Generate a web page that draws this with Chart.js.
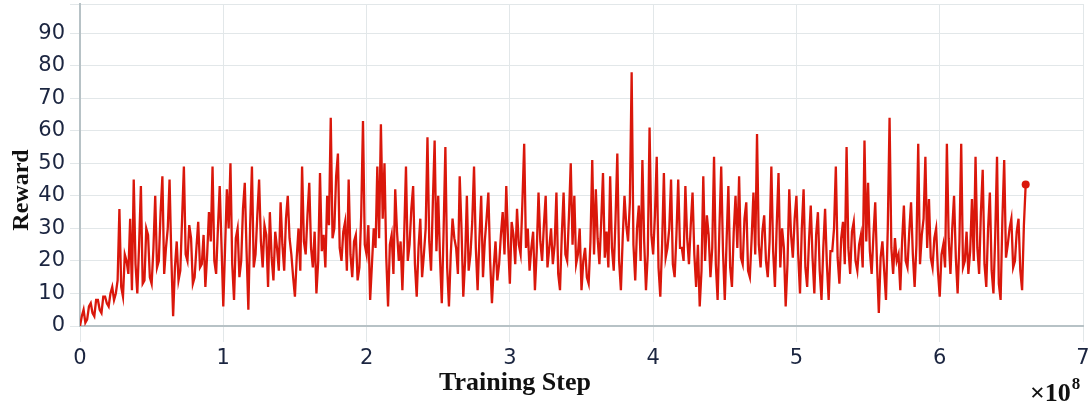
<!DOCTYPE html>
<html>
<head>
<meta charset="utf-8">
<script src="https://cdn.jsdelivr.net/npm/chart.js@4.4.1/dist/chart.umd.min.js"></script>
<style>
  html, body { margin: 0; padding: 0; background: #ffffff; }
  #wrap { width: 1091px; height: 407px; }
</style>
</head>
<body>
<div id="wrap"><canvas id="rewardChart"></canvas></div>
<script>
// Reward logged every 0.0125 x 1e8 training steps
const stepInterval = 0.0125;

const rewards = [
  0, 3, 5, 1, 2, 6, 7, 4, 3, 8, 8, 5, 4, 9, 9, 7, 6, 10, 12, 8,
  10, 14, 36, 12, 9, 22, 20, 16, 33, 11, 45, 19, 10, 25, 43, 13, 14, 30, 28, 15,
  13, 24, 40, 18, 20, 35, 46, 16, 24, 30, 45, 21, 3, 18, 26, 14, 17, 33, 49, 22,
  20, 31, 27, 13, 15, 24, 32, 18, 19, 28, 12, 22, 35, 26, 49, 20, 16, 30, 43, 25,
  6, 24, 42, 30, 50, 19, 8, 27, 30, 15, 20, 36, 44, 23, 5, 31, 49, 18, 22, 34,
  45, 26, 18, 31, 28, 12, 35, 21, 14, 29, 24, 17, 38, 25, 17, 33, 40, 27, 22, 15,
  9, 21, 30, 17, 49, 26, 22, 34, 44, 24, 18, 29, 10, 20, 47, 23, 28, 18, 40, 31,
  64, 27, 30, 46, 53, 24, 20, 29, 32, 17, 45, 22, 15, 26, 28, 14, 18, 34, 63, 25,
  22, 31, 8, 19, 30, 24, 49, 27, 62, 33, 50, 21, 6, 25, 28, 16, 42, 29, 20, 26,
  11, 28, 49, 20, 25, 36, 43, 19, 9, 24, 33, 15, 22, 30, 58, 26, 17, 38, 57, 23,
  40, 21, 7, 29, 55, 18, 6, 22, 33, 27, 24, 16, 46, 30, 9, 20, 40, 17, 22, 32,
  49, 24, 11, 27, 40, 15, 26, 33, 41, 20, 7, 18, 26, 14, 19, 28, 35, 22, 43, 26,
  13, 32, 28, 19, 36, 25, 22, 38, 56, 24, 30, 17, 24, 29, 11, 23, 41, 26, 20, 31,
  40, 18, 24, 30, 19, 25, 41, 16, 11, 28, 41, 22, 20, 34, 50, 25, 40, 19, 22, 30,
  11, 20, 24, 15, 13, 26, 51, 22, 42, 27, 19, 32, 47, 21, 29, 18, 46, 24, 17, 33,
  53, 20, 11, 27, 40, 31, 26, 38, 78, 25, 14, 30, 37, 20, 51, 26, 11, 22, 61, 28,
  22, 34, 52, 18, 9, 25, 47, 21, 24, 30, 45, 19, 15, 28, 45, 24, 24, 20, 43, 27,
  19, 31, 41, 22, 12, 25, 6, 17, 46, 20, 34, 28, 15, 24, 52, 19, 8, 30, 49, 23,
  8, 26, 43, 18, 12, 29, 40, 24, 46, 21, 19, 33, 38, 17, 15, 27, 41, 22, 59, 25,
  18, 29, 34, 20, 15, 26, 49, 23, 12, 31, 47, 18, 30, 24, 6, 19, 42, 28, 21, 33,
  40, 22, 10, 30, 42, 18, 12, 26, 37, 21, 10, 28, 35, 17, 8, 24, 36, 19, 8, 23,
  23, 30, 49, 21, 13, 27, 32, 19, 55, 24, 16, 29, 32, 20, 17, 25, 28, 18, 57, 26,
  44, 23, 16, 28, 38, 19, 4, 21, 26, 17, 8, 30, 64, 24, 16, 27, 20, 22, 11, 26,
  37, 20, 18, 29, 38, 22, 12, 25, 56, 19, 28, 33, 52, 24, 39, 21, 18, 27, 30, 17,
  9, 22, 25, 18, 56, 27, 16, 30, 40, 21, 10, 26, 56, 18, 20, 29, 16, 23, 39, 20,
  52, 24, 16, 35, 48, 19, 12, 30, 41, 17, 10, 28, 52, 13, 8, 33, 51, 21, 25, 30,
  33, 18, 20, 29, 33, 17, 11, 31, 43.5
];

const yTicks = [0, 10, 20, 30, 40, 50, 60, 70, 80, 90];
const xTicks = [0, 1, 2, 3, 4, 5, 6, 7];
const yMax = 99;
const xMax = 7;

const points = rewards.map((r, i) => ({ x: i * stepInterval, y: r }));

const lineRed = '#da170b';
const gridColor = '#e2e7e9';
const axisColor = '#b7c2c6';
const tickColor = '#1b2540';
const titleFont = '"Liberation Serif", "Times New Roman", serif';

// Axis titles and the x10^8 multiplier, placed where the original has them
const extraLabels = {
  id: 'extraLabels',
  afterDraw(chart) {
    const ctx = chart.ctx;
    ctx.save();
    ctx.fillStyle = '#111111';
    ctx.font = 'bold 24px ' + titleFont;
    ctx.textAlign = 'center';
    ctx.textBaseline = 'middle';
    ctx.translate(22, 190);
    ctx.rotate(-Math.PI / 2);
    ctx.fillText('Reward', 0, 0);
    ctx.restore();

    ctx.save();
    ctx.fillStyle = '#111111';
    ctx.font = 'bold 26px ' + titleFont;
    ctx.textAlign = 'center';
    ctx.textBaseline = 'middle';
    ctx.fillText('Training Step', 515, 383);
    ctx.restore();

    ctx.save();
    ctx.fillStyle = '#111111';
    ctx.textBaseline = 'alphabetic';
    ctx.textAlign = 'left';
    ctx.font = 'bold 26px ' + titleFont;
    ctx.fillText('\u00d710', 1030, 401);
    const w = ctx.measureText('\u00d710').width;
    ctx.font = 'bold 17px ' + titleFont;
    ctx.fillText('8', 1030 + w + 1, 389);
    ctx.restore();
  }
};

new Chart(document.getElementById('rewardChart'), {
  type: 'line',
  data: {
    datasets: [{
      label: 'Reward',
      data: points,
      borderColor: lineRed,
      backgroundColor: lineRed,
      borderWidth: 2.3,
      tension: 0,
      pointRadius: points.map((p, i) => i === points.length - 1 ? 4 : 0),
      pointBackgroundColor: lineRed,
      pointBorderWidth: 0
    }]
  },
  options: {
    responsive: true,
    maintainAspectRatio: false,
    animation: false,
    layout: { padding: { top: 2, right: 8, bottom: 0, left: 0 } },
    plugins: {
      legend: { display: false },
      tooltip: { enabled: false }
    },
    scales: {
      x: {
        type: 'linear',
        min: 0,
        max: xMax,
        afterFit: s => { s.height = 81; s.paddingLeft = 0; s.paddingRight = 0; },
        afterBuildTicks: s => { s.ticks = xTicks.map(v => ({ value: v })); },
        grid: { color: gridColor, tickLength: 16, lineWidth: 1 },
        border: { color: axisColor, width: 2 },
        ticks: {
          color: tickColor,
          padding: 4,
          maxRotation: 0,
          font: { family: '"DejaVu Sans", sans-serif', size: 21 }
        }
      },
      y: {
        min: 0,
        max: yMax,
        afterFit: s => { s.width = 80; s.paddingTop = 0; s.paddingBottom = 0; },
        grid: { color: gridColor, tickLength: 10, lineWidth: 1 },
        border: { color: axisColor, width: 2 },
        ticks: {
          stepSize: 10,
          color: tickColor,
          padding: 5,
          font: { family: '"DejaVu Sans", sans-serif', size: 21 },
          callback: v => yTicks.includes(v) ? v : ''
        }
      }
    }
  },
  plugins: [extraLabels]
});
</script>
</body>
</html>
